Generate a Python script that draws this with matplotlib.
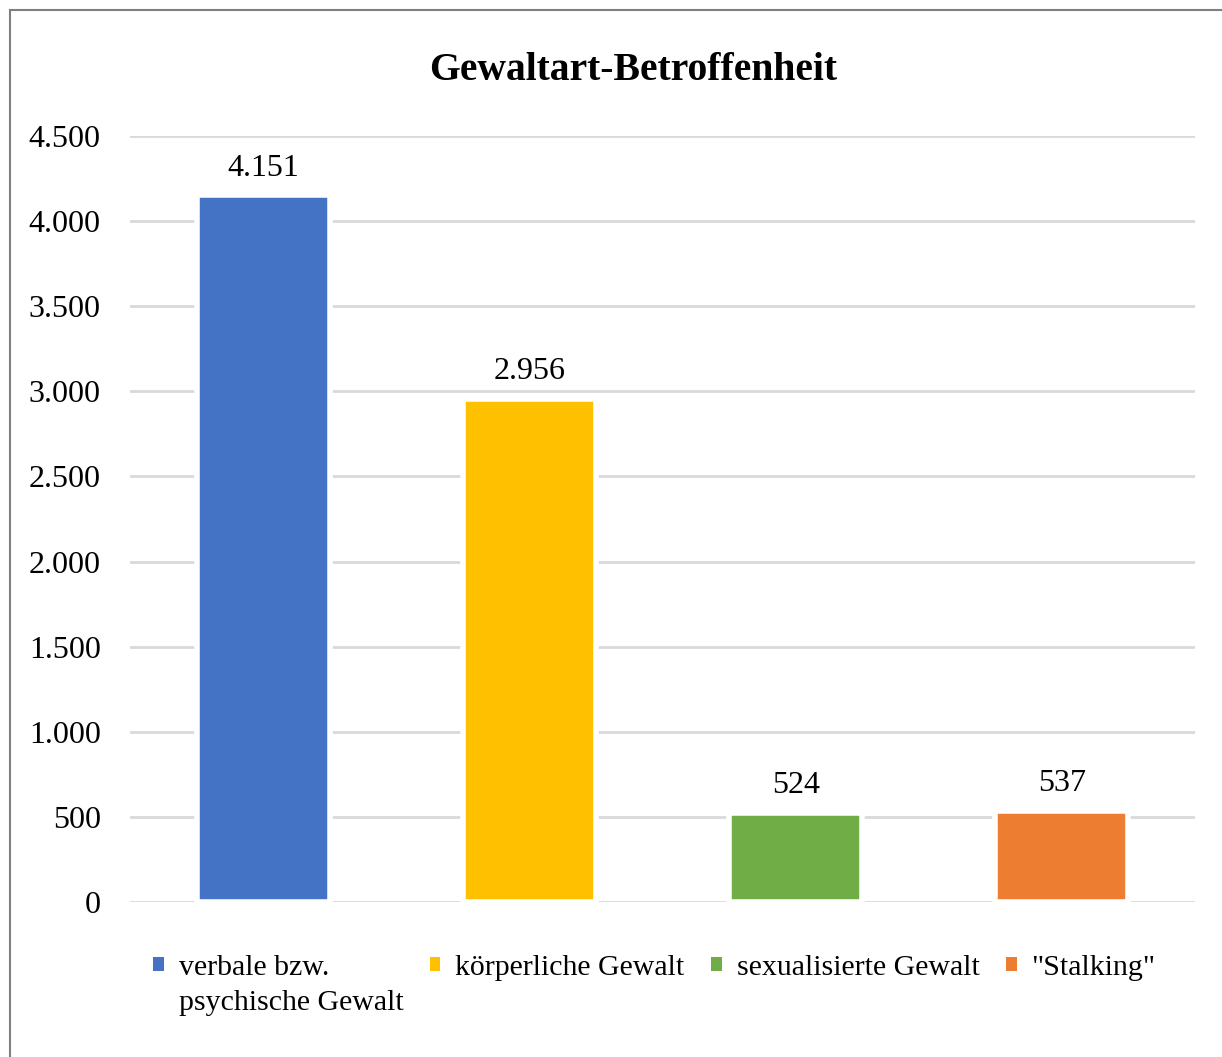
import matplotlib.pyplot as plt
from matplotlib.patches import Patch
from matplotlib.lines import Line2D
from matplotlib.ticker import FuncFormatter

plt.rcParams['font.family'] = ['Liberation Serif', 'DejaVu Serif']

categories = ['verbale bzw.\npsychische Gewalt', 'körperliche Gewalt',
              'sexualisierte Gewalt', '"Stalking"']
values = [4151, 2956, 524, 537]
colors = ['#4472C4', '#FFC000', '#70AD47', '#ED7D31']
yticks = [0, 500, 1000, 1500, 2000, 2500, 3000, 3500, 4000, 4500]


def de_fmt(v, pos=None):
    return f'{int(round(v)):,}'.replace(',', '.')


fig = plt.figure(figsize=(12.22, 10.57), dpi=100)
ax = fig.add_axes([130 / 1222, 1 - 902 / 1057, 1065 / 1222, 766 / 1057])

x = list(range(len(values)))
bars = ax.bar(x, values, width=0.5, color=colors, edgecolor='white',
              linewidth=4, zorder=3)
ax.bar_label(bars, labels=[de_fmt(v) for v in values], padding=9,
             fontsize=23)

ax.set_xlim(-0.5, 3.5)
ax.set_ylim(0, 4500)
ax.set_yticks(yticks)
ax.yaxis.set_major_formatter(FuncFormatter(de_fmt))
ax.set_xticks([])
ax.tick_params(axis='y', length=0, pad=21, labelsize=23)
ax.grid(axis='y', color='#d9d9d9', linewidth=2, zorder=0)
ax.set_axisbelow(True)
for s in ax.spines.values():
    s.set_visible(False)

fig.text(0.5185, 1 - 71 / 1057, 'Gewaltart-Betroffenheit', ha='center',
         va='center', fontsize=28.5, fontweight='bold')

# legend: first entry's second line goes into a blank row of the first column
handles, labels = [], []
for cat, col in zip(categories, colors):
    lines = cat.split('\n')
    handles.append(Patch(facecolor=col, edgecolor='none'))
    labels.append(lines[0])
    handles.append(Patch(facecolor='none', edgecolor='none'))
    labels.append(lines[1] if len(lines) > 1 else '')
fig.legend(handles, labels, ncol=4, loc='upper left',
           bbox_to_anchor=(153 / 1222, 1 - 955 / 1057), frameon=False,
           fontsize=21.5, handlelength=0.36, handleheight=0.36,
           handletextpad=0.5, columnspacing=0.88, labelspacing=0.3,
           borderpad=0, borderaxespad=0)

# outer frame (top and left visible)
fig.add_artist(Line2D([10 / 1222, 10 / 1222], [0, 1 - 10 / 1057],
                      transform=fig.transFigure, color='#7f7f7f', lw=1.5))
fig.add_artist(Line2D([10 / 1222, 1], [1 - 10 / 1057, 1 - 10 / 1057],
                      transform=fig.transFigure, color='#7f7f7f', lw=1.5))

fig.savefig('out.png', dpi=100)
